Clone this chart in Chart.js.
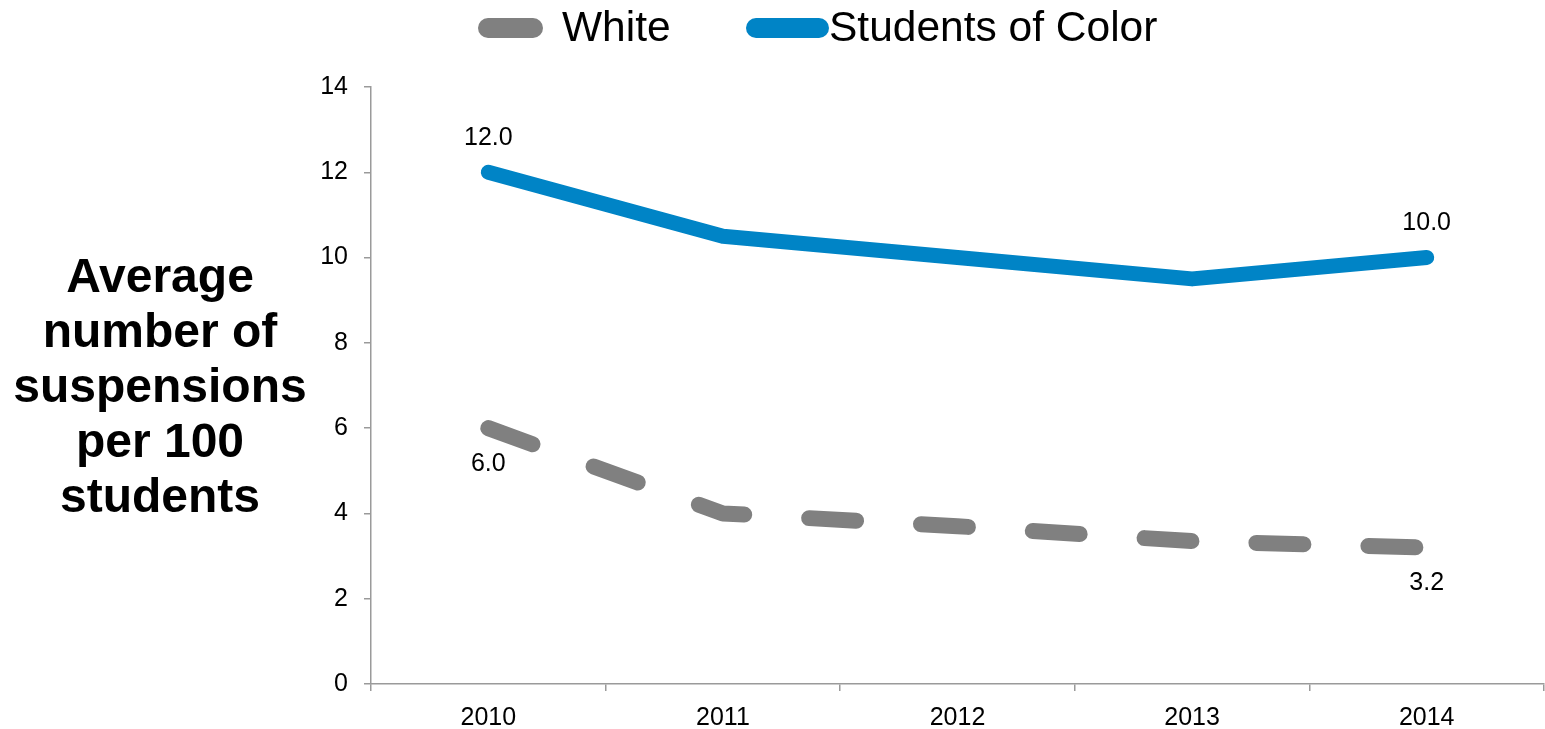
<!DOCTYPE html>
<html>
<head>
<meta charset="utf-8">
<script src="https://cdn.jsdelivr.net/npm/chart.js@4/dist/chart.umd.min.js"></script>
<style>
  html, body { margin: 0; padding: 0; background: #fff; }
  #wrap { width: 1545px; height: 729px; position: relative; }
</style>
</head>
<body>
<div id="wrap"><canvas id="c" width="1545" height="729"></canvas></div>
<script>
const categories = ['2010', '2011', '2012', '2013', '2014'];
const whiteValues = [6.0, 4.0, 3.7, 3.35, 3.2];
const colorValues = [12.0, 10.5, 10.0, 9.5, 10.0];
const seriesNames = ['White', 'Students of Color'];
const yTitleLines = ['Average', 'number of', 'suspensions', 'per 100', 'students'];
const yTicks = { min: 0, max: 14, step: 2 };

const FONT = "'Liberation Sans', Arial, Helvetica, sans-serif";
const GRAY = '#808080';
const BLUE = '#0084C6';
const AXIS = '#9a9a9a';

const yTitlePlugin = {
  id: 'yTitle',
  afterDraw(chart) {
    const ctx = chart.ctx;
    ctx.save();
    ctx.fillStyle = '#000';
    ctx.font = 'bold 48px ' + FONT;
    ctx.textAlign = 'center';
    ctx.textBaseline = 'middle';
    const cx = 160, startY = 279, lh = 55;
    yTitleLines.forEach((t, i) => ctx.fillText(t, cx, startY + i * lh));
    ctx.restore();
  }
};

const legendPlugin = {
  id: 'customLegend',
  afterDraw(chart) {
    const ctx = chart.ctx;
    const items = [
      { ds: chart.data.datasets[0], x1: 488, x2: 533, tx: 562 },
      { ds: chart.data.datasets[1], x1: 756, x2: 819, tx: 829 }
    ];
    ctx.save();
    items.forEach(it => {
      ctx.beginPath();
      ctx.strokeStyle = it.ds.borderColor;
      ctx.lineWidth = 20;
      ctx.lineCap = 'round';
      ctx.setLineDash([]);
      ctx.moveTo(it.x1, 28);
      ctx.lineTo(it.x2, 28);
      ctx.stroke();
      ctx.fillStyle = '#000';
      ctx.font = '42.5px ' + FONT;
      ctx.textAlign = 'left';
      ctx.textBaseline = 'middle';
      ctx.fillText(it.ds.label, it.tx, 29);
    });
    ctx.restore();
  }
};

const dataLabelPlugin = {
  id: 'endLabels',
  afterDatasetsDraw(chart) {
    const ctx = chart.ctx;
    ctx.save();
    ctx.fillStyle = '#000';
    ctx.font = '25px ' + FONT;
    ctx.textAlign = 'center';
    ctx.textBaseline = 'middle';
    chart.data.datasets.forEach((ds, di) => {
      const meta = chart.getDatasetMeta(di);
      const last = ds.data.length - 1;
      [0, last].forEach(i => {
        const pt = meta.data[i];
        const off = ds.labelOffset;
        ctx.fillText(ds.data[i].toFixed(1), pt.x, pt.y + off);
      });
    });
    ctx.restore();
  }
};

new Chart(document.getElementById('c'), {
  type: 'line',
  data: {
    labels: categories,
    datasets: [
      {
        label: seriesNames[0],
        data: whiteValues,
        borderColor: GRAY,
        backgroundColor: GRAY,
        borderWidth: 16,
        borderDash: [47, 65],
        borderCapStyle: 'round',
        borderJoinStyle: 'round',
        pointRadius: 0,
        tension: 0,
        labelOffset: 36
      },
      {
        label: seriesNames[1],
        data: colorValues,
        borderColor: BLUE,
        backgroundColor: BLUE,
        borderWidth: 15,
        borderCapStyle: 'round',
        borderJoinStyle: 'round',
        pointRadius: 0,
        tension: 0,
        labelOffset: -34
      }
    ]
  },
  options: {
    responsive: false,
    animation: false,
    devicePixelRatio: 1,
    layout: { padding: { top: 87, right: 1, left: 0, bottom: 0 } },
    plugins: {
      legend: { display: false },
      tooltip: { enabled: false }
    },
    scales: {
      x: {
        type: 'category',
        offset: true,
        grid: {
          offset: true,
          drawOnChartArea: false,
          drawTicks: true,
          tickLength: 7,
          color: AXIS,
          lineWidth: 1.5
        },
        border: { color: AXIS, width: 1.5 },
        ticks: {
          color: '#000',
          font: { family: FONT, size: 25 },
          padding: 12,
          maxRotation: 0
        },
        afterFit(s) { s.height = 45; }
      },
      y: {
        min: yTicks.min,
        max: yTicks.max,
        grid: {
          drawOnChartArea: false,
          drawTicks: true,
          tickLength: 7,
          color: AXIS,
          lineWidth: 1.5
        },
        border: { color: AXIS, width: 1.5 },
        ticks: {
          stepSize: yTicks.step,
          color: '#000',
          font: { family: FONT, size: 25 },
          padding: 16
        },
        afterFit(s) { s.width = 371; }
      }
    }
  },
  plugins: [yTitlePlugin, legendPlugin, dataLabelPlugin]
});
</script>
</body>
</html>
